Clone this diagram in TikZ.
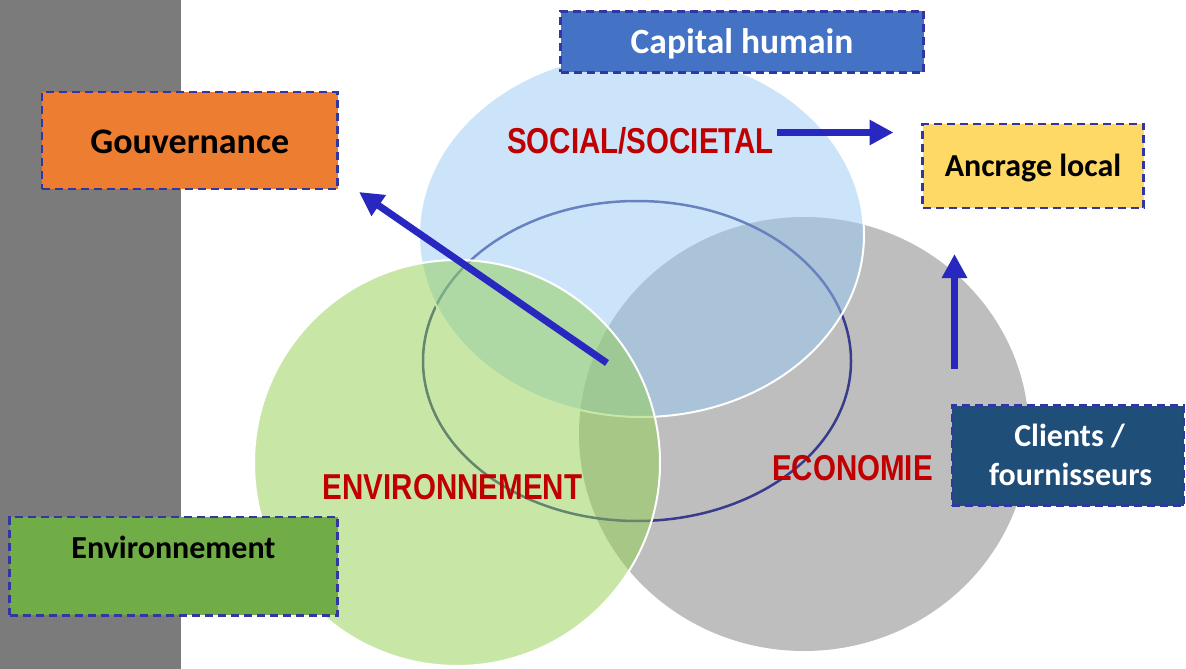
\documentclass[tikz,border=0pt]{standalone}
\usepackage{fontspec}
\setmainfont{Carlito}
\newfontfamily\narrowfont[FakeStretch=0.82]{Liberation Sans}
\usetikzlibrary{arrows.meta}

\definecolor{bandgray}{HTML}{7B7B7B}
\definecolor{ecogray}{HTML}{BEBEBE}
\definecolor{socblue}{HTML}{99C9F5}
\definecolor{envgreen}{HTML}{92D050}
\definecolor{ringblue}{HTML}{373C8C}
\definecolor{pillarred}{HTML}{C00000}
\definecolor{dashblue}{HTML}{3236A0}
\definecolor{arrowblue}{HTML}{2828C0}
\definecolor{capfill}{HTML}{4472C4}
\definecolor{gouvfill}{HTML}{ED7D31}
\definecolor{ancfill}{HTML}{FFD966}
\definecolor{envfill}{HTML}{70AD47}
\definecolor{clifill}{HTML}{1F4E79}

\begin{document}
\begin{tikzpicture}[x=1pt,y=-1pt,
  dashedge/.style={draw=dashblue, line width=2.5pt, dash pattern=on 8pt off 5pt},
  tag/.style 2 args={dashedge, inner sep=0pt,
    font=\bfseries\fontsize{#1}{#1}\selectfont,
    text height=#2, text depth=1.2pt},
  pillar/.style={text=pillarred, inner sep=0pt, anchor=base,
    font=\narrowfont\bfseries\fontsize{36}{40}\selectfont},
  push/.style={draw=arrowblue, line width=7pt,
    -{Triangle[length=24pt, width=24pt]}},
  disc/.style={fill=#1, fill opacity=0.5, draw=white, draw opacity=1, line width=2pt},
  whitelabel/.style={text=white, inner sep=0pt, anchor=base,
    font=\bfseries\fontsize{32}{32}\selectfont}
]
\useasboundingbox (0,0) rectangle (1186,669);

% grey band on the left
\fill[bandgray] (0,0) rectangle (181,669);

% the three pillars and the central ring
\fill[ecogray] (804,434) ellipse [x radius=225pt, y radius=217pt];
\draw[ringblue, line width=2.5pt] (637,361) ellipse [x radius=214pt, y radius=160pt];
\path[disc=socblue] (641.5,235) ellipse [x radius=222.5pt, y radius=182pt];
\path[disc=envgreen] (457,463) circle [radius=203pt];

% pillar titles
\node[pillar] (soc) at (640.5,153) {SOCIAL/SOCIETAL};
\node[pillar] (envt) at (452.5,499.3) {ENVIRONNEMENT};
\node[pillar] (eco) at (852.5,480) {ECONOMIE};

% stakeholder boxes
\node[tag={35.5}{24pt}, fill=capfill, text=white, minimum width=363pt, minimum height=61pt]
  (capital) at (742,42) {Capital humain};
\node[tag={36}{26.2pt}, fill=gouvfill, minimum width=295.5pt, minimum height=97pt]
  (gouv) at (189.75,140.5) {Gouvernance};
\node[tag={32}{23pt}, fill=ancfill, minimum width=221pt, minimum height=84pt]
  (ancrage) at (1033,166) {Ancrage local};
\node[dashedge, fill=envfill, inner sep=0pt, minimum width=328pt,
  text height=42pt, text depth=56.3pt, anchor=north,
  font=\bfseries\fontsize{32}{32}\selectfont]
  (envbox) at (173.5,515.7) {Environnement};
\node[dashedge, fill=clifill, minimum width=232pt, minimum height=100pt, inner sep=0pt]
  (clients) at (1068,455.5) {};
\node[whitelabel] (cl1) at (1069.5,446.7) {Clients /};
\node[whitelabel] (cl2) at (1070.5,485.3) {fournisseurs};

% arrows
\coordinate (a1from) at (607,363);
\coordinate (a1to) at (359,192);
\coordinate (a2from) at (777,132.5);
\coordinate (a2to) at (893.5,132.5);
\coordinate (a3from) at (954.5,369);
\coordinate (a3to) at (954.5,254);
\draw[push] (a1from) -- (a1to);
\draw[push] (a2from) -- (a2to);
\draw[push] (a3from) -- (a3to);
\end{tikzpicture}
\end{document}
